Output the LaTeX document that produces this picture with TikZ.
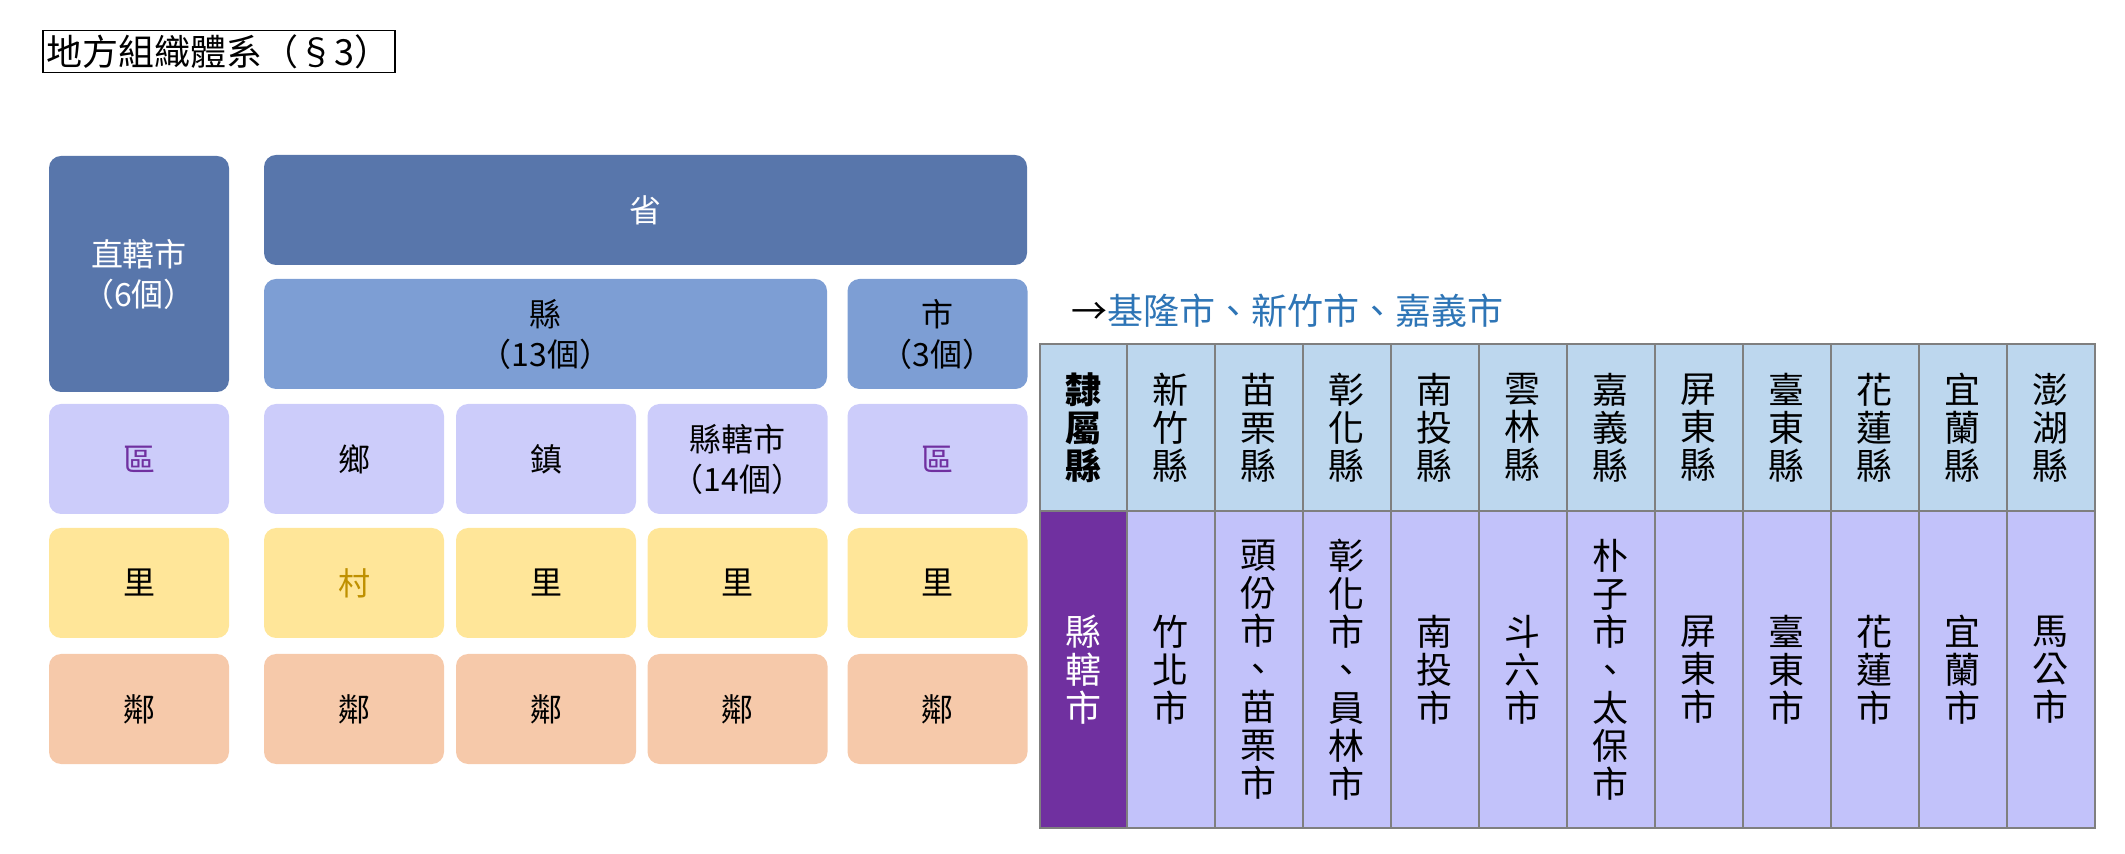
\documentclass[tikz,border=0pt]{standalone}
\usepackage{fontspec}
\setmainfont{Noto Sans CJK TC}
\definecolor{darkblue}{HTML}{5876AB}
\definecolor{midblue}{HTML}{7D9ED4}
\definecolor{lav}{HTML}{CCCCFA}
\definecolor{yel}{HTML}{FFE699}
\definecolor{peach}{HTML}{F6C9AA}
\definecolor{purp}{HTML}{7030A0}
\definecolor{gold}{HTML}{BF9000}
\definecolor{hdr}{HTML}{BDD7EE}
\definecolor{grid}{HTML}{7F7F7F}
\definecolor{note}{HTML}{2E75B6}
\tikzset{
  box/.style={rounded corners=6pt, inner sep=0pt, align=center, font=\fontsize{16}{20}\selectfont,
    minimum width=90pt, minimum height=55pt},
  cell/.style={draw=grid, line width=1pt, inner sep=0pt, align=center,
    font=\fontsize{18}{19}\selectfont, minimum width=44pt},
}
\begin{document}
\begin{tikzpicture}[x=0.5pt,y=-0.5pt]
\useasboundingbox (0,0) rectangle (2125,854);
\node (title) [draw, line width=0.8pt, inner sep=2pt, anchor=west, font=\fontsize{18}{20}\selectfont] at (42,51.5) {地方組織體系（§3）};
% left hierarchy
\node (zx) [box, fill=darkblue, text=white, minimum height=118pt] at (139,274) {直轄市\\（6個）};
\node (sheng) [box, fill=darkblue, text=white, minimum width=381.5pt] at (645.5,210) {省};
\node (xian) [box, fill=midblue, minimum width=281.5pt] at (545.5,334) {縣\\（13個）};
\node (shi) [box, fill=midblue] at (937.5,334) {市\\（3個）};
\node (qu1) [box, fill=lav, text=purp] at (139,459) {區};
\node (xiang) [box, fill=lav] at (354,459) {鄉};
\node (zhen) [box, fill=lav] at (546,459) {鎮};
\node (xxs) [box, fill=lav] at (737.5,459) {縣轄市\\（14個）};
\node (qu2) [box, fill=lav, text=purp] at (937.5,459) {區};
\node (li1) [box, fill=yel] at (139,583) {里};
\node (cun) [box, fill=yel, text=gold] at (354,583) {村};
\node (li2) [box, fill=yel] at (546,583) {里};
\node (li3) [box, fill=yel] at (737.5,583) {里};
\node (li4) [box, fill=yel] at (937.5,583) {里};
\foreach \x [count=\i] in {139,354,546,737.5,937.5}
  \node (lin\i) [box, fill=peach] at (\x,709) {鄰};
% note
\node (note) [anchor=west, inner sep=0pt, font=\fontsize{18}{20}\selectfont] at (1071,311) {→\textcolor{note}{基隆市、新竹市、嘉義市}};
% table
\node (h0) [cell, fill=hdr, minimum width=43.25pt, minimum height=83.5pt, font=\fontsize{18}{19}\selectfont\bfseries] at (1083.25,427.5) {隸\\屬\\縣};
\node (b0) [cell, fill=purp, text=white, minimum width=43.25pt, minimum height=158.5pt] at (1083.25,669.5) {縣\\轄\\市};
\foreach \top/\bot [count=\i] in {
  {新\\竹\\縣}/{竹\\北\\市},
  {苗\\栗\\縣}/{頭\\份\\市\\、\\苗\\栗\\市},
  {彰\\化\\縣}/{彰\\化\\市\\、\\員\\林\\市},
  {南\\投\\縣}/{南\\投\\市},
  {雲\\林\\縣}/{斗\\六\\市},
  {嘉\\義\\縣}/{朴\\子\\市\\、\\太\\保\\市},
  {屏\\東\\縣}/{屏\\東\\市},
  {臺\\東\\縣}/{臺\\東\\市},
  {花\\蓮\\縣}/{花\\蓮\\市},
  {宜\\蘭\\縣}/{宜\\蘭\\市},
  {澎\\湖\\縣}/{馬\\公\\市}} {
  \node (h\i) [cell, fill=hdr, minimum height=83.5pt] at (1126.5+88*\i-44,427.5) {\top};
  \node (b\i) [cell, fill=lav!95!blue, minimum height=158.5pt] at (1126.5+88*\i-44,669.5) {\bot};
}
\end{tikzpicture}
\end{document}
